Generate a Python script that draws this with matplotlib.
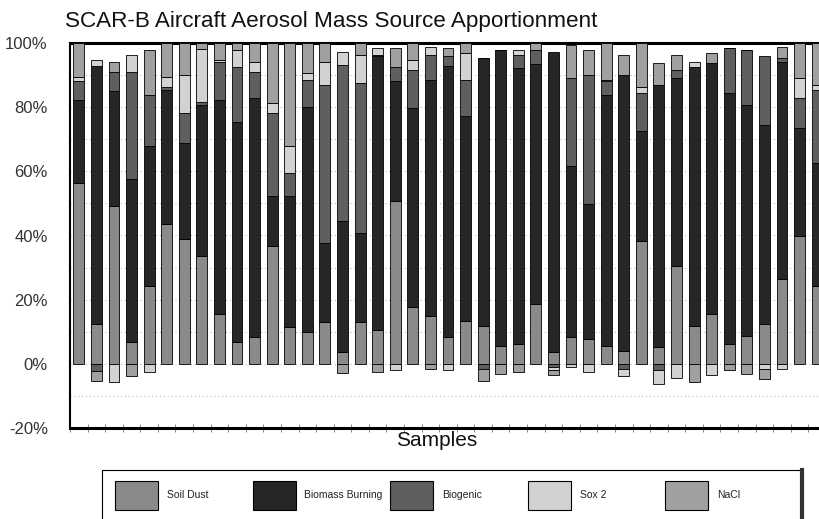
import numpy as np
import matplotlib
matplotlib.use("Agg")
import matplotlib.pyplot as plt
from matplotlib.patches import Rectangle

plt.rcParams["font.family"] = ["Liberation Sans", "DejaVu Sans"]

# --- data (percent of mass) ---
series_names = ["Soil Dust", "Biomass Burning", "Biogenic", "Sox 2", "NaCl"]
series_colors = ["#8a8a8a", "#262626", "#5f5f5f", "#d2d2d2", "#a0a0a0"]

soil_dust = [56.4, 12.4, 49.2, 6.7, 24.3, 43.5, 38.8, 33.6, 15.5, 6.7, 8.3, 36.8, 11.4, 9.8,
             12.9, 3.6, 12.9, 10.4, 50.7, 17.6, 15.0, 8.3, 13.5, 11.9, 5.7, 6.2, 18.6, 3.6,
             8.3, 7.8, 5.7, 4.1, 38.3, 5.2, 30.5, 11.9, 15.5, 6.2, 8.8, 12.4, 26.4, 39.9, 24.3]
biomass = [25.9, 80.5, 35.7, 50.8, 43.5, 41.9, 30.0, 47.1, 66.8, 68.8, 74.5, 15.5, 40.9, 70.4,
           24.8, 40.9, 28.0, 85.4, 37.3, 62.1, 73.5, 84.4, 63.6, 83.3, 92.1, 85.9, 75.0, 93.7,
           53.3, 41.9, 78.2, 85.9, 34.2, 81.8, 58.5, 80.7, 78.2, 78.2, 71.9, 62.1, 67.8, 33.6, 38.3]
biogenic = [6.0, -2.1, 6.2, 33.6, 16.1, 1.0, 9.3, 1.0, 11.9, 17.1, 8.3, 25.9, 7.2, 8.3,
            49.2, 48.7, 46.6, 0.5, 4.6, 11.9, 7.8, 3.1, 11.4, -1.6, 0.0, 4.1, 4.1, -1.0,
            27.4, 40.4, 4.1, -1.5, 11.9, -2.0, 2.6, 0.0, 0.0, 14.0, 17.1, 21.3, 1.0, 9.3, 22.8]
sox2 = [1.0, 1.8, -5.7, 5.2, -2.6, 3.0, 11.9, 16.3, 0.5, 5.2, 3.1, 3.1, 8.3, 2.1,
        7.2, 4.1, 8.8, 2.0, -1.8, 3.1, 2.6, -1.8, 8.3, 0.0, 0.0, 1.5, 0.0, -1.0,
        -1.0, -2.6, 0.5, -2.3, 2.0, -4.2, -4.5, 1.6, -3.4, 0.0, 0.0, -1.5, -1.6, 6.2, 1.6]
nacl = [10.7, -3.2, 3.1, -3.8, 13.9, 10.6, 10.0, 2.0, 5.3, 2.2, 5.8, 18.7, 32.2, 9.4,
        5.9, -2.8, 3.7, -2.4, 5.8, 5.3, -1.6, 2.5, 3.2, -3.6, -3.1, -2.6, 2.2, -1.4,
        10.4, 7.7, 11.5, 6.3, 13.6, 6.7, 4.7, -5.7, 3.3, -2.0, -3.1, -3.2, 3.7, 11.0, 13.0]

ytick_values = [-20, 0, 20, 40, 60, 80, 100]
ytick_labels = ["-20%", "0%", "20%", "40%", "60%", "80%", "100%"]

title = "SCAR-B Aircraft Aerosol Mass Source Apportionment"
xlabel = "Samples"


def draw_bars(ax, series):
    n = len(series[0])
    x = np.arange(n)
    pos_bottom = np.zeros(n)
    neg_bottom = np.zeros(n)
    # excel-style stacking: positives go up from 0, negatives go down from 0
    for vals, color in zip(series, series_colors):
        v = np.array(vals, dtype=float)
        bottom = np.where(v >= 0, pos_bottom, neg_bottom)
        ax.bar(x, v, width=0.62, bottom=bottom, color=color,
               edgecolor="black", linewidth=0.6, zorder=3)
        pos_bottom += np.clip(v, 0, None)
        neg_bottom += np.clip(v, None, 0)
    return n


def draw_legend(fig):
    lax = fig.add_axes([0, 0, 1, 1], zorder=5)
    lax.set_xlim(0, 819)
    lax.set_ylim(519, 0)
    lax.axis("off")
    # frame, bottom runs off the page like in the scan
    lax.add_patch(Rectangle((102, 470), 700, 60, facecolor="white",
                            edgecolor="black", linewidth=0.8))
    lax.plot([802, 802], [470, 519], color="#333333", linewidth=3)
    for i, (name, color) in enumerate(zip(series_names, series_colors)):
        x0 = 115 + i * 137.5
        lax.add_patch(Rectangle((x0, 481), 43, 29, facecolor=color,
                                edgecolor="black", linewidth=0.8))
        lax.text(x0 + 52, 495, name, fontsize=7.5, va="center", ha="left",
                 color="#222222")


def main():
    fig = plt.figure(figsize=(8.19, 5.19), dpi=100)
    ax = fig.add_axes([70 / 819, 1 - 428 / 519, 770 / 819, 385 / 519])

    n = draw_bars(ax, [soil_dust, biomass, biogenic, sox2, nacl])

    ax.set_xlim(-0.455, 43.3)
    ax.set_ylim(-20, 100)

    ax.set_yticks(ytick_values)
    ax.set_yticklabels(ytick_labels, fontsize=12, color="#333333")
    ax.set_yticks(np.arange(-20, 101, 10), minor=True)
    ax.grid(True, axis="y", which="both", linestyle=(0, (1, 3)),
            color="#aaaaaa", linewidth=0.7, zorder=0)
    ax.tick_params(axis="y", which="both", length=0, pad=16)

    ax.set_xticks([])
    ax.set_xticks(np.arange(n + 1) - 0.5, minor=True)
    ax.tick_params(axis="x", which="minor", direction="inout", length=6,
                   width=0.6, color="#777777")

    ax.spines["right"].set_visible(False)
    ax.spines["top"].set_linewidth(2.2)
    ax.spines["bottom"].set_linewidth(2.2)
    ax.spines["left"].set_linewidth(1.5)

    fig.text(65 / 819, 1 - 22 / 519, title, fontsize=16.2, va="center", ha="left",
             color="#111111")
    fig.text(437 / 819, 1 - 441 / 519, xlabel, fontsize=15, va="center", ha="center",
             color="#111111")

    draw_legend(fig)

    fig.savefig("out.png", dpi=100)
    plt.close(fig)


if __name__ == "__main__":
    main()
